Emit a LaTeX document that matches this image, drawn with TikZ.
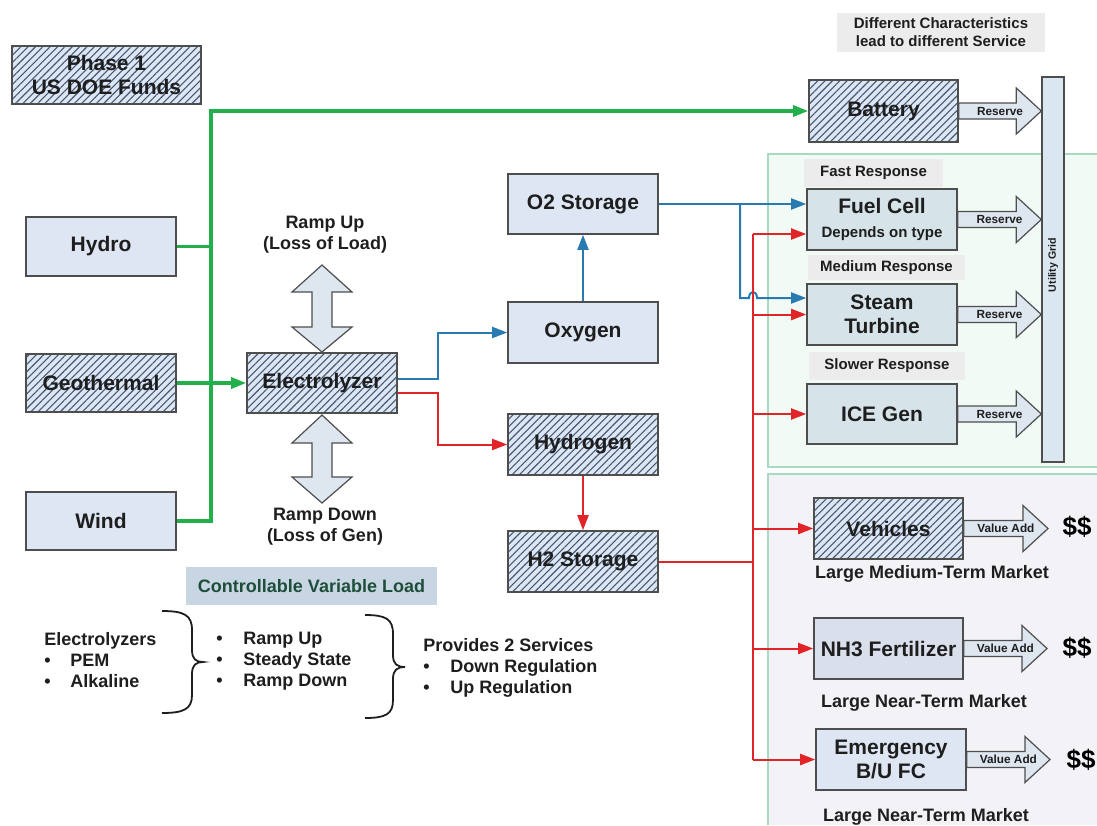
\documentclass[tikz,border=0pt]{standalone}
\usepackage{fontspec}
\setmainfont{Liberation Sans}
\usetikzlibrary{calc,arrows.meta,patterns.meta}

\definecolor{boxfill}{RGB}{221,230,242}
\definecolor{hatchbg}{RGB}{220,231,246}
\definecolor{hatchln}{RGB}{72,86,112}
\definecolor{gnfill}{RGB}{214,228,234}
\definecolor{nhfill}{RGB}{218,223,236}
\definecolor{gridfill}{RGB}{218,230,240}
\definecolor{bordc}{RGB}{78,78,78}
\definecolor{cGreen}{RGB}{34,176,76}
\definecolor{cBlue}{RGB}{42,122,178}
\definecolor{cRed}{RGB}{224,36,40}
\definecolor{regg}{RGB}{241,250,245}
\definecolor{reggb}{RGB}{168,218,192}
\definecolor{regl}{RGB}{243,243,247}
\definecolor{lblgray}{RGB}{236,236,236}
\definecolor{ctlfill}{RGB}{200,214,228}
\definecolor{ctltext}{RGB}{30,78,58}
\definecolor{txt}{RGB}{30,30,30}
\definecolor{arrfill}{RGB}{222,230,240}

\tikzset{
  box/.style={draw=bordc, line width=0.8pt, fill=boxfill, text=txt,
    font=\bfseries\fontsize{10.5}{12}\selectfont, align=center, inner sep=0pt},
  hbox/.style={box, preaction={fill=hatchbg},
    pattern={Lines[angle=45,distance=2.6pt,line width=0.55pt]}, pattern color=hatchln},
  sz/.style 2 args={minimum width=#1*0.5pt, minimum height=#2*0.5pt},
  gln/.style={draw=cGreen, line width=1.6pt},
  bln/.style={draw=cBlue, line width=1pt},
  rln/.style={draw=cRed, line width=1pt},
  arr/.style={-{Triangle[length=7.5pt,width=5.5pt]}},
  blk/.style={draw=bordc, line width=0.6pt, fill=arrfill},
  glab/.style={fill=lblgray, text=txt, inner sep=0pt, align=center,
    font=\bfseries\fontsize{7.5}{9}\selectfont},
  tiny/.style={text=txt, inner sep=0pt, font=\bfseries\fontsize{5.9}{7}\selectfont},
  rlab/.style={text=txt, align=center, inner sep=0pt, font=\bfseries\fontsize{9}{10.5}\selectfont},
  listtxt/.style={text=txt, align=left, inner sep=0pt, font=\bfseries\fontsize{9}{10.5}\selectfont},
  mlab/.style={text=txt, inner sep=0pt, font=\bfseries\fontsize{9}{10.5}\selectfont},
  dollar/.style={text=black, inner sep=0pt, font=\bfseries\fontsize{13}{15}\selectfont},
}

\newcommand{\blkarr}[3]{%
  \draw[blk] ($(#1.east)+(0,-8)$) -- ($(#2)+(-25,-8)$) -- ($(#2)+(-25,-23)$) -- (#2)
    -- ($(#2)+(-25,23)$) -- ($(#2)+(-25,8)$) -- ($(#1.east)+(0,8)$) -- cycle;
  \node[tiny] at ($(#1.east)!0.5!(#2)$) {#3};
}

\begin{document}
\begin{tikzpicture}[x=0.5pt,y=-0.5pt]
\useasboundingbox (0,0) rectangle (1097,825);

% regions
\fill[regg] (768,154) rectangle (1097,467);
\draw[reggb, line width=0.8pt] (1097,154) -- (768,154) -- (768,467) -- (1097,467);
\fill[regl] (768,474) rectangle (1097,825);
\draw[reggb, line width=0.8pt] (1097,474) -- (768,474) -- (768,825);

% grey label boxes
\node[glab, sz={208}{39}] (diff) at (941,32.5) {Different Characteristics\\lead to different Service};
\node[glab, sz={139}{28}] (fast) at (873.5,173) {Fast Response};
\node[glab, sz={157}{25}] (med) at (886.5,267.5) {Medium Response};
\node[glab, sz={156}{28}] (slow) at (887,366) {Slower Response};

% boxes
\node[hbox, sz={189}{58}] (phase) at (106.5,75) {Phase 1\\US DOE Funds};
\node[box, sz={150}{59}] (hydro) at (101,246.5) {Hydro};
\node[hbox, sz={150}{58}] (geo) at (101,383) {Geothermal};
\node[box, sz={150}{58}] (wind) at (101,521) {Wind};
\node[hbox, sz={150}{60}] (elec) at (322,383) {Electrolyzer};
\node[box, sz={150}{60}] (o2) at (583,204) {O2 Storage};
\node[box, sz={150}{61}] (oxy) at (583,332.5) {Oxygen};
\node[hbox, sz={150}{61}] (hyd) at (583,444.5) {Hydrogen};
\node[hbox, sz={150}{61}] (h2s) at (583,561.5) {H2 Storage};
\node[hbox, sz={149}{62}] (batt) at (883.5,111) {Battery};
\node[box, fill=gnfill, sz={150}{61}] (fc) at (882,219.5)
  {\fontsize{10.5}{13}\selectfont Fuel Cell\\\fontsize{7.5}{13}\selectfont Depends on type};
\node[box, fill=gnfill, sz={150}{61}] (st) at (882,314.5) {Steam\\Turbine};
\node[box, fill=gnfill, sz={150}{60}] (ice) at (882,414) {ICE Gen};
\node[hbox, sz={149}{61}] (veh) at (888.5,528.5) {Vehicles};
\node[box, fill=nhfill, sz={149}{61}] (nh3) at (888.5,648.5) {NH3 Fertilizer};
\node[box, sz={150}{61}] (em) at (891,759.5) {Emergency\\B/U FC};
\node[box, fill=gridfill, line width=0.7pt, sz={22}{385}] (grid) at (1053,269.5) {};
\node[tiny, font=\bfseries\fontsize{5.3}{6}\selectfont, rotate=90] (gridlbl) at (1053,265) {Utility Grid};

% green connectors
\coordinate (gtop) at (211,111);
\draw[gln, arr] (wind.east) -| (gtop) -- (batt.west);
\draw[gln] (hydro.east) -- (hydro.east -| gtop);
\draw[gln, arr] (geo.east) -- (elec.west);

% blue connectors
\draw[bln, arr] ($(elec.east)+(0,-4)$) -- ++(40,0) |- (oxy.west);
\draw[bln, arr] (oxy.north) -- (o2.south);
\draw[bln, arr] (o2.east) -- (o2.east -| fc.west);
\coordinate (bj) at (740,204);
\coordinate (hopL) at (749,298);
\coordinate (hopR) at (757,298);
\draw[bln, arr] (bj) |- (hopL) .. controls (749,290) and (757,290) .. (hopR) -- (hopR -| st.west);

% red connectors
\draw[rln, arr] ($(elec.east)+(0,10)$) -- ++(40,0) |- (hyd.west);
\draw[rln, arr] (hyd.south) -- (h2s.north);
\coordinate (rtop) at (753,234);
\coordinate (rbot) at (753,759.5);
\draw[rln] (h2s.east) -- (h2s.east -| rtop);
\draw[rln] (rtop) -- (rbot);
\draw[rln, arr] (rtop) -- (rtop -| fc.west);
\draw[rln, arr] (st.west -| rtop) -- (st.west);
\draw[rln, arr] (ice.west -| rtop) -- (ice.west);
\draw[rln, arr] (veh.west -| rtop) -- (veh.west);
\draw[rln, arr] (nh3.west -| rtop) -- (nh3.west);
\draw[rln, arr] (rbot) -- (em.west);

% reserve arrows
\coordinate (tbatt) at (grid.west |- batt.east);
\coordinate (tfc) at (grid.west |- fc.east);
\coordinate (tst) at (grid.west |- st.east);
\coordinate (tice) at (grid.west |- ice.east);
\blkarr{batt}{tbatt}{Reserve}
\blkarr{fc}{tfc}{Reserve}
\blkarr{st}{tst}{Reserve}
\blkarr{ice}{tice}{Reserve}

% value add arrows
\coordinate (tveh) at (1048,528.5);
\coordinate (tnh3) at (1047,648.5);
\coordinate (tem) at (1050,759.5);
\blkarr{veh}{tveh}{Value Add}
\blkarr{nh3}{tnh3}{Value Add}
\blkarr{em}{tem}{Value Add}
\node[dollar] (d1) at (1077,527) {\$\$};
\node[dollar] (d2) at (1077,648) {\$\$};
\node[dollar] (d3) at (1081,760) {\$\$};

% market labels
\node[mlab] (m1) at (932,574) {Large Medium-Term Market};
\node[mlab] (m2) at (924,703) {Large Near-Term Market};
\node[mlab] (m3) at (926,817) {Large Near-Term Market};

% ramp double arrows
\draw[blk] (322,265) -- (352,292) -- (332,292) -- (332,327) -- (352,327) -- (322,352)
  -- (292,327) -- (312,327) -- (312,292) -- (292,292) -- cycle;
\draw[blk] (322,415) -- (352,443) -- (332,443) -- (332,477) -- (352,477) -- (322,503)
  -- (292,477) -- (312,477) -- (312,443) -- (292,443) -- cycle;
\node[rlab] (rup) at (325,235) {Ramp Up\\(Loss of Load)};
\node[rlab] (rdn) at (325,527) {Ramp Down\\(Loss of Gen)};

% controllable variable load
\node[fill=ctlfill, text=ctltext, inner sep=0pt, sz={251}{38},
  font=\bfseries\fontsize{9}{10.5}\selectfont] (ctl) at (311.5,586) {Controllable Variable Load};

% lists
\node[listtxt, anchor=west] (l1) at (44,660)
  {Electrolyzers\\\makebox[13pt][l]{\textbullet}PEM\\\makebox[13pt][l]{\textbullet}Alkaline};
\node[listtxt, anchor=west] (l2) at (216,661)
  {\makebox[13.5pt][l]{\textbullet}Ramp Up\\\makebox[13.5pt][l]{\textbullet}Steady State\\\makebox[13.5pt][l]{\textbullet}Ramp Down};
\node[listtxt, anchor=west] (l3) at (423,668)
  {Provides 2 Services\\\makebox[13.5pt][l]{\textbullet}Down Regulation\\\makebox[13.5pt][l]{\textbullet}Up Regulation};

% braces
\draw[txt, line width=0.9pt] (162,611) .. controls (184,611) and (192,615) .. (192,630) -- (192,650)
  .. controls (192,659) and (196,662) .. (203,662) .. controls (196,662) and (192,665) .. (192,674)
  -- (192,695) .. controls (192,709) and (184,713) .. (162,713);
\draw[txt, line width=0.9pt] (365,615) .. controls (386,615) and (393,619) .. (393,634) -- (393,655)
  .. controls (393,664) and (397,667) .. (405,667) .. controls (397,667) and (393,670) .. (393,679)
  -- (393,700) .. controls (393,714) and (386,718) .. (365,718);
\end{tikzpicture}
\end{document}
